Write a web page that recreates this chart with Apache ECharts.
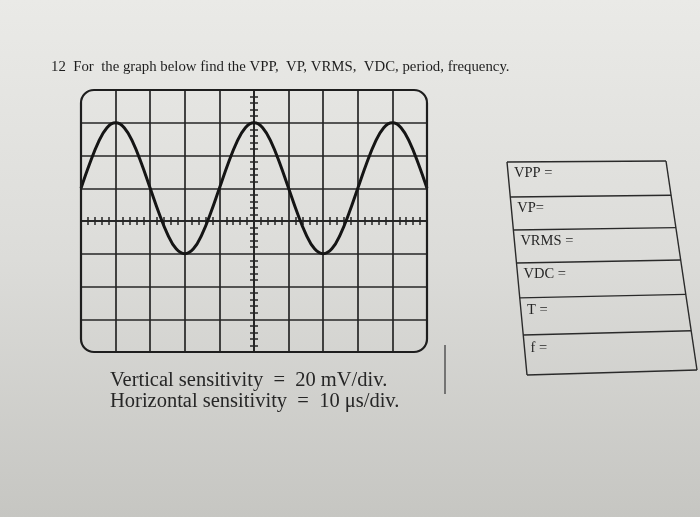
<!DOCTYPE html>
<html>
<head>
<meta charset="utf-8">
<script src="https://cdn.jsdelivr.net/npm/echarts@6/dist/echarts.min.js"></script>
<style>
html,body{margin:0;padding:0;}
#c{width:700px;height:517px;}
</style>
</head>
<body>
<div id="c"></div>
<script>
// ---- data ----
const timeDiv = [-5,-4.75,-4.5,-4.25,-4,-3.75,-3.5,-3.25,-3,-2.75,-2.5,-2.25,-2,-1.75,-1.5,-1.25,-1,-0.75,-0.5,-0.25,
  0,0.25,0.5,0.75,1,1.25,1.5,1.75,2,2.25,2.5,2.75,3,3.25,3.5,3.75,4,4.25,4.5,4.75,5];
const voltDiv = [1,1.75,2.4,2.85,3,2.85,2.4,1.75,1,0.25,-0.4,-0.85,-1,-0.85,-0.4,0.25,
  1,1.75,2.4,2.85,3,2.85,2.4,1.75,1,0.25,-0.4,-0.85,-1,-0.85,-0.4,0.25,
  1,1.75,2.4,2.85,3,2.85,2.4,1.75,1];
const titleText = '12  For  the graph below find the VPP,  VP, VRMS,  VDC, period, frequency.';
const sensitivityLines = ['Vertical sensitivity  =  20 mV/div.', 'Horizontal sensitivity  =  10 \u03bcs/div.'];
const tableLabels = ['VPP =', 'VP=', 'VRMS =', 'VDC =', 'T =', 'f ='];
const tableRowEdges = [0, 0.164, 0.319, 0.474, 0.638, 0.812, 1];

const serif = '"Liberation Serif", "DejaVu Serif", serif';
const ink = '#262626';

const chart = echarts.init(document.getElementById('c'), null, {renderer: 'canvas'});

const G = {left: 81, top: 90, width: 346, height: 262};

// table quad (perspective-skewed in the photo)
const TQ = {tl: [507, 162], tr: [666, 161], bl: [527, 375], br: [697, 370]};
function quad(u, v) {
  const x = (1 - u) * (1 - v) * TQ.tl[0] + u * (1 - v) * TQ.tr[0] + (1 - u) * v * TQ.bl[0] + u * v * TQ.br[0];
  const y = (1 - u) * (1 - v) * TQ.tl[1] + u * (1 - v) * TQ.tr[1] + (1 - u) * v * TQ.bl[1] + u * v * TQ.br[1];
  return [x, y];
}
const tableGraphics = [];
tableGraphics.push({type: 'polyline', shape: {points: [quad(0, 0), quad(0, 1)]}, style: {stroke: '#2a2a2a', lineWidth: 1.4, fill: null}});
tableGraphics.push({type: 'polyline', shape: {points: [quad(1, 0), quad(1, 1)]}, style: {stroke: '#2a2a2a', lineWidth: 1.4, fill: null}});
tableRowEdges.forEach(function (v) {
  tableGraphics.push({type: 'polyline', shape: {points: [quad(0, v), quad(1, v)]}, style: {stroke: '#2a2a2a', lineWidth: 1.4, fill: null}});
});
tableLabels.forEach(function (t, i) {
  const v = tableRowEdges[i] + 0.33 * (tableRowEdges[i + 1] - tableRowEdges[i]);
  const p = quad(0, v);
  tableGraphics.push({type: 'text', x: p[0] + 6, y: p[1], style: {text: t, font: '14.5px ' + serif, fill: ink, verticalAlign: 'middle'}});
});

const axisCommon = {
  type: 'value', min: -5, max: 5, interval: 1,
  axisLabel: {show: false},
  axisTick: {show: false},
  minorTick: {show: true, splitNumber: 5, length: 4, lineStyle: {color: ink, width: 1.5}},
  axisLine: {show: true, onZero: true, onZeroAxisIndex: 0, lineStyle: {color: ink, width: 1.7}}
};

const option = {
  backgroundColor: {
    type: 'linear', x: 0, y: 0, x2: 0, y2: 1,
    colorStops: [{offset: 0, color: '#eaeae7'}, {offset: 0.5, color: '#dcdcd9'}, {offset: 1, color: '#c6c6c2'}]
  },
  animation: false,
  title: {
    text: titleText, left: 46, top: 55,
    textStyle: {fontFamily: serif, fontSize: 14.8, fontWeight: 'normal', color: '#1e1e1e'}
  },
  grid: {left: G.left, top: G.top, width: G.width, height: G.height, show: false},
  xAxis: [
    Object.assign({}, axisCommon, {position: 'bottom',
      splitLine: {show: true, showMinLine: false, showMaxLine: false, lineStyle: {color: ink, width: 1.7}}}),
    Object.assign({}, axisCommon, {position: 'top', splitLine: {show: false}})
  ],
  yAxis: [
    Object.assign({}, axisCommon, {min: -4, max: 4, position: 'left',
      splitLine: {show: true, showMinLine: false, showMaxLine: false, lineStyle: {color: ink, width: 1.7}}}),
    Object.assign({}, axisCommon, {min: -4, max: 4, position: 'right', splitLine: {show: false}})
  ],
  series: [{
    type: 'line',
    data: timeDiv.map(function (t, i) { return [t, voltDiv[i]]; }),
    smooth: 0.4,
    showSymbol: false,
    lineStyle: {color: '#151515', width: 3},
    silent: true
  }],
  graphic: [
    {type: 'rect', shape: {x: G.left, y: G.top, width: G.width, height: G.height, r: 13},
      style: {fill: null, stroke: '#1e1e1e', lineWidth: 2.2}, z: 10},
    {type: 'text', x: 110, y: 381, style: {text: sensitivityLines[0], font: '20.5px ' + serif, fill: ink, verticalAlign: 'middle'}},
    {type: 'text', x: 110, y: 402, style: {text: sensitivityLines[1], font: '20.5px ' + serif, fill: ink, verticalAlign: 'middle'}},
    {type: 'line', shape: {x1: 445, y1: 345, x2: 445, y2: 394}, style: {stroke: '#555', lineWidth: 1.5}}
  ].concat(tableGraphics)
};
chart.setOption(option);
</script>
</body>
</html>
